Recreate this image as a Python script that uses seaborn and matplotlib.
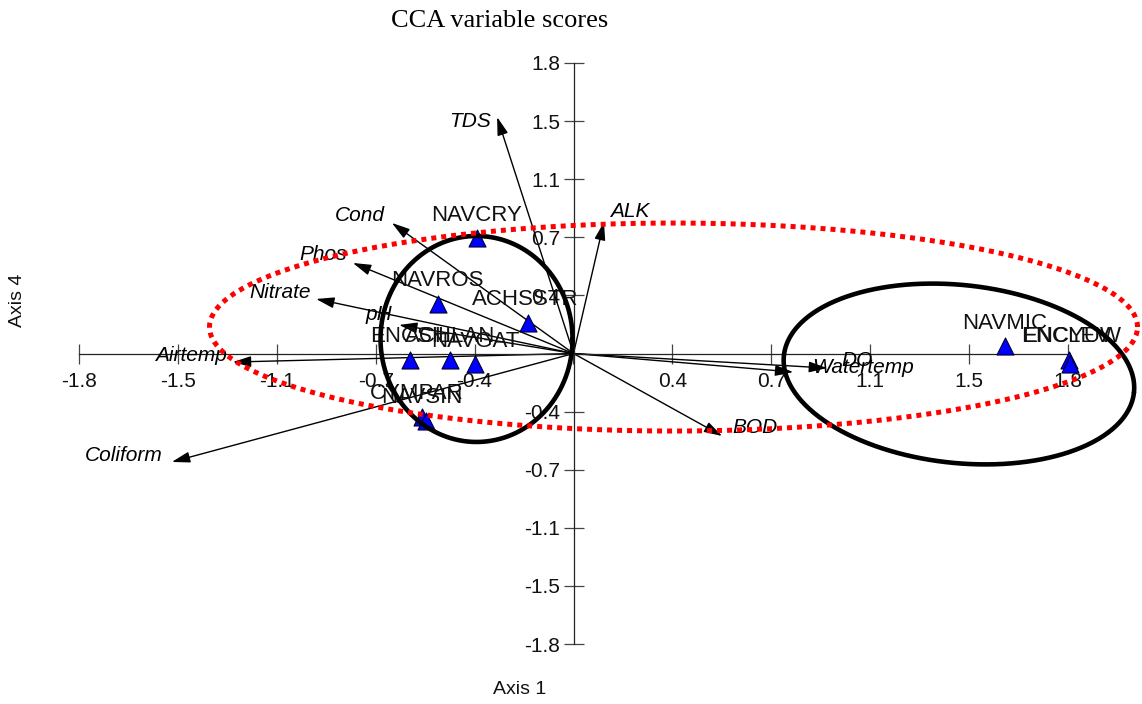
import numpy as np
import pandas as pd
import matplotlib
matplotlib.use("Agg")
import matplotlib.pyplot as plt
import seaborn as sns

# ---- CCA scores -------------------------------------------------------
species = ["NAVCRY", "NAVROS", "ACHSSTR", "ENCSIL", "ACHLAN", "NAVGAT",
           "CYMPAR", "NAVSIN", "NAVMIC", "ENCLEV", "ENCYUW"]
species_ax1 = [-0.353, -0.495, -0.167, -0.595, -0.448, -0.357,
               -0.552, -0.537, 1.571, 1.804, 1.807]
species_ax4 = [0.713, 0.307, 0.192, -0.040, -0.040, -0.068,
               -0.393, -0.418, 0.046, -0.040, -0.065]

env_vars = ["TDS", "ALK", "Cond", "Phos", "Nitrate", "pH", "Airtemp",
            "Coliform", "BOD", "Watertemp", "DO"]
env_ax1 = [-0.278, 0.111, -0.661, -0.803, -0.937, -0.635, -1.240,
           -1.462, 0.541, 0.800, 0.923]
env_ax4 = [1.465, 0.815, 0.809, 0.561, 0.338, 0.177, -0.053,
           -0.672, -0.511, -0.115, -0.090]

tick_values = np.linspace(-1.8, 1.8, 11)
tick_labels = ["-1.8", "-1.5", "-1.1", "-0.7", "-0.4", "",
               "0.4", "0.7", "1.1", "1.5", "1.8"]

# label offsets from arrow tips (pixels: right, up)
env_label_offsets = {
    "TDS": (-27, -4), "ALK": (26, 10), "Cond": (-32, 7), "Phos": (-30, 8),
    "Nitrate": (-36, 6), "pH": (-20, 10), "Airtemp": (-42, 7),
    "Coliform": (-48, 6), "BOD": (33, 8), "Watertemp": (70, 5), "DO": (30, 8),
}
species_label_offsets = {
    "ACHSSTR": (-2, 23), "CYMPAR": (-5, 23), "NAVSIN": (-4, 23),
    "ENCLEV": (-3, 23), "ENCYUW": (2, 27),
}

sns.set_theme(style="white")
plt.rcParams["font.family"] = ["Liberation Sans", "DejaVu Sans"]

DPI = 100
fig = plt.figure(figsize=(11.42, 7.04), dpi=DPI)
fig.patch.set_facecolor("white")
ax = fig.add_axes([79 / 1142, 60 / 704, 989 / 1142, 581 / 704])
ax.set_xlim(-1.8, 1.8)
ax.set_ylim(-1.8, 1.8)
ax.set_facecolor("white")

# axes through the origin
for side in ("top", "right"):
    ax.spines[side].set_visible(False)
for side in ("left", "bottom"):
    ax.spines[side].set_position(("data", 0))
    ax.spines[side].set_color("#222222")
    ax.spines[side].set_linewidth(0.9)

ax.set_xticks(tick_values)
ax.set_xticklabels(tick_labels)
ax.set_yticks(tick_values)
ax.set_yticklabels(tick_labels)
ax.tick_params(axis="both", direction="inout", length=15, width=0.9,
               color="#444444", labelsize=15, labelcolor="#111111")
ax.tick_params(axis="x", pad=6, bottom=True)
ax.tick_params(axis="y", pad=2, left=True)

px = 72.0 / DPI  # points per pixel

# environmental arrows
for name, x, y in zip(env_vars, env_ax1, env_ax4):
    ax.annotate("", xy=(x, y), xytext=(0, 0),
                arrowprops=dict(arrowstyle="-|>,head_length=1.1,head_width=0.33",
                                mutation_scale=10, lw=1.0, color="black",
                                shrinkA=0, shrinkB=0),
                zorder=2, annotation_clip=False)
    dx, dy = env_label_offsets[name]
    ax.annotate(name, xy=(x, y), xytext=(dx * px, dy * px),
                textcoords="offset points", ha="center", va="center",
                fontsize=15, fontstyle="italic", color="black",
                zorder=4, annotation_clip=False)

# species scores
df = pd.DataFrame({"species": species, "axis1": species_ax1, "axis4": species_ax4})
sns.scatterplot(data=df, x="axis1", y="axis4", marker="^", s=150,
                color="#0000FF", edgecolor="#000033", linewidth=0.8,
                ax=ax, legend=False, zorder=3, clip_on=False)
for name, x, y in zip(species, species_ax1, species_ax4):
    dx, dy = species_label_offsets.get(name, (0, 23))
    ax.annotate(name, xy=(x, y), xytext=(dx * px, dy * px),
                textcoords="offset points", ha="center", va="center",
                fontsize=16, color="#111111", zorder=4,
                annotation_clip=False)
ax.set_xlabel("")
ax.set_ylabel("")

# grouping ellipses, defined in screen pixels around a data centre
xscale = 989 / 3.6
yscale = 581 / 3.6


def ellipse_xy(cx, cy, a_px, b_px, angle_deg=0.0, n=400):
    t = np.linspace(0, 2 * np.pi, n)
    th = np.deg2rad(angle_deg)
    u = a_px * np.cos(t)
    v = b_px * np.sin(t)
    xs = cx + (u * np.cos(th) - v * np.sin(th)) / xscale
    ys = cy + (u * np.sin(th) + v * np.cos(th)) / yscale
    return xs, ys


ex, ey = ellipse_xy(-0.353, 0.090, 96, 103)
ax.plot(ex, ey, color="black", lw=3.3, zorder=5, clip_on=False)
ex, ey = ellipse_xy(1.403, -0.127, 176, 89, angle_deg=-6)
ax.plot(ex, ey, color="black", lw=3.3, zorder=5, clip_on=False)
ex, ey = ellipse_xy(0.364, 0.164, 464, 104)
ax.plot(ex, ey, color="#FF0000", lw=3.6, dashes=(1.0, 1.0),
        dash_capstyle="butt", zorder=6, clip_on=False)

# titles
fig.text(500 / 1142, 1 - 21 / 704, "CCA variable scores", ha="center",
         va="center", fontsize=19, family=["Liberation Serif", "DejaVu Serif"],
         color="black")
fig.text(520 / 1142, 1 - 690 / 704, "Axis 1", ha="center", va="center",
         fontsize=14, color="#111111")
fig.text(18 / 1142, 1 - 300 / 704, "Axis 4", ha="center", va="center",
         fontsize=14, rotation=90, color="#111111")

fig.savefig("out.png", dpi=DPI, facecolor="white")
